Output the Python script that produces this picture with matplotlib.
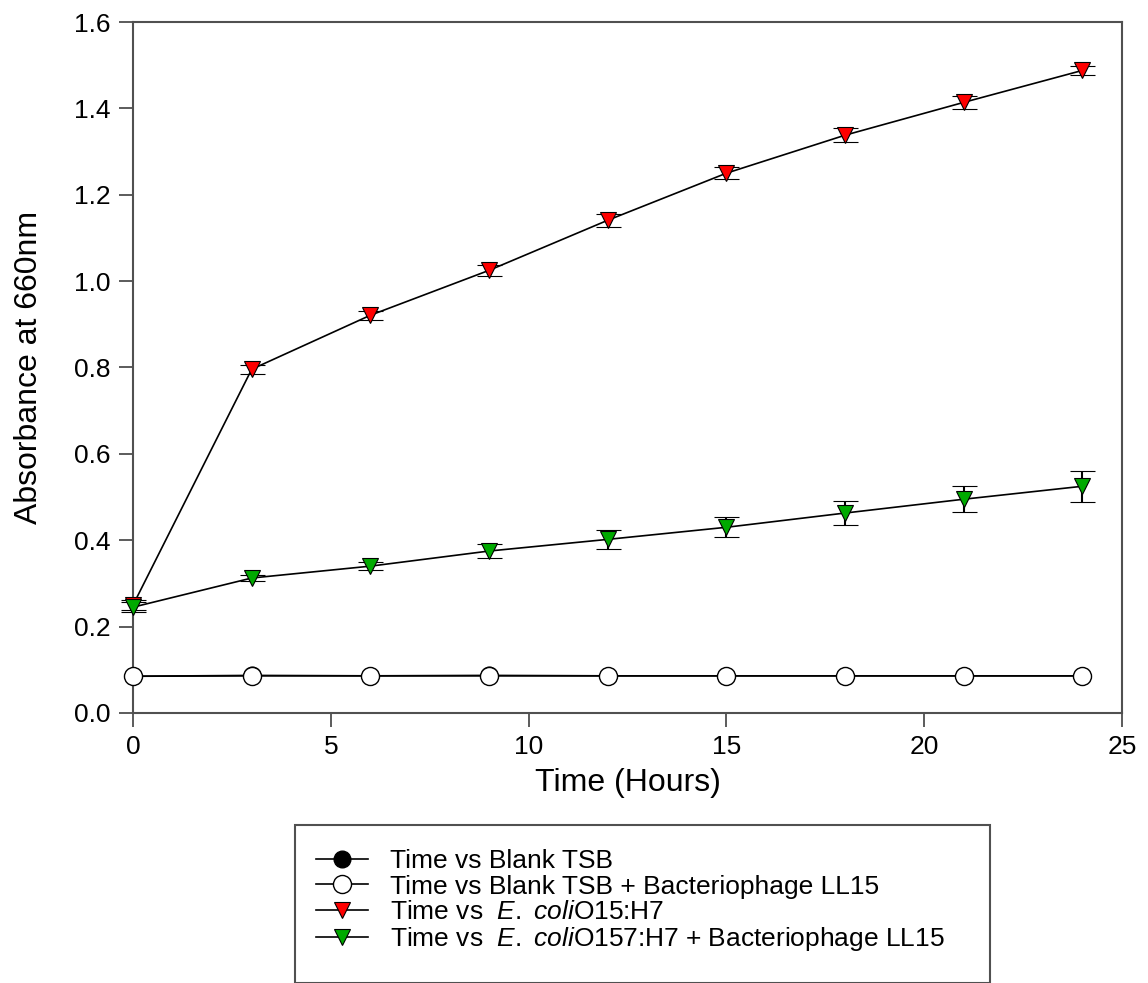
import numpy as np
import matplotlib.pyplot as plt
from matplotlib.patches import Rectangle

plt.rcParams['font.family'] = ['Liberation Sans', 'DejaVu Sans']
plt.rcParams['mathtext.fontset'] = 'custom'
plt.rcParams['mathtext.it'] = 'Liberation Sans:italic'
plt.rcParams['mathtext.rm'] = 'Liberation Sans'

hours = [0, 3, 6, 9, 12, 15, 18, 21, 24]
blank = [0.085, 0.087, 0.086, 0.087, 0.086, 0.086, 0.086, 0.086, 0.086]
blank_phage = [0.085, 0.086, 0.086, 0.086, 0.086, 0.086, 0.086, 0.086, 0.086]
ecoli = [0.25, 0.796, 0.921, 1.025, 1.141, 1.25, 1.338, 1.414, 1.488]
ecoli_err = [0.012, 0.01, 0.01, 0.012, 0.015, 0.014, 0.016, 0.015, 0.01]
ecoli_phage = [0.245, 0.3125, 0.34, 0.375, 0.402, 0.43, 0.463, 0.495, 0.525]
ecoli_phage_err = [0.012, 0.008, 0.01, 0.017, 0.022, 0.023, 0.028, 0.03, 0.036]

labels = ['Time vs Blank TSB',
          'Time vs Blank TSB + Bacteriophage LL15',
          r'Time vs  $\it{E.\ coli}$O15:H7',
          r'Time vs  $\it{E.\ coli}$O157:H7 + Bacteriophage LL15']

fig = plt.figure(figsize=(11.48, 9.83), dpi=100)
ax = fig.add_axes([0.1159, 0.2747, 0.8615, 0.7029])

h1, = ax.plot(hours, blank, color='black', lw=1.2, marker='o', ms=12,
              mfc='black', mec='black', clip_on=False, zorder=3)
h2, = ax.plot(hours, blank_phage, color='black', lw=1.2, marker='o', ms=13,
              mfc='white', mec='black', clip_on=False, zorder=4)
e3 = ax.errorbar(hours, ecoli, yerr=ecoli_err, color='black', lw=1.2,
                 marker='v', ms=12, mfc='#ff0000', mec='black', mew=0.8,
                 capsize=9, capthick=1.5, elinewidth=1.5, ecolor='black',
                 clip_on=False, zorder=5)
e4 = ax.errorbar(hours, ecoli_phage, yerr=ecoli_phage_err, color='black', lw=1.2,
                 marker='v', ms=12, mfc='#00aa00', mec='black', mew=0.8,
                 capsize=9, capthick=1.5, elinewidth=1.5, ecolor='black',
                 clip_on=False, zorder=5)
for e in (e3, e4):
    for c in e[1] + e[2]:
        c.set_clip_on(False)

ax.set_xlim(0, 25)
ax.set_ylim(0, 1.6)
ax.set_xticks([0, 5, 10, 15, 20, 25])
ax.set_yticks(np.arange(0, 1.61, 0.2))
ax.set_yticklabels([f'{v:.1f}' for v in np.arange(0, 1.61, 0.2)])
ax.tick_params(direction='out', length=10, width=1.2, labelsize=19,
               colors='#404040', labelcolor='black', pad=6)
for s in ax.spines.values():
    s.set_color('#505050')
    s.set_linewidth(1.5)
ax.set_xlabel('Time (Hours)', fontsize=23, labelpad=6)
ax.set_ylabel('Absorbance at 660nm', fontsize=23, labelpad=22)

fig.patches.append(Rectangle((295 / 1148, 0), 695 / 1148, 158 / 983,
                             transform=fig.transFigure, fill=False,
                             edgecolor='#505050', lw=1.5))
l3, = ax.plot([], [], color='black', lw=1.2, marker='v', ms=12,
              mfc='#ff0000', mec='black', mew=0.8)
l4, = ax.plot([], [], color='black', lw=1.2, marker='v', ms=12,
              mfc='#00aa00', mec='black', mew=0.8)
fig.legend([h1, h2, l3, l4], labels, loc='upper left',
           bbox_to_anchor=(303 / 1148, 1 - 836 / 983), frameon=False,
           fontsize=19, handlelength=1.95, handletextpad=0.85,
           labelspacing=0.05, borderpad=0)

fig.savefig('out.png', dpi=100)
